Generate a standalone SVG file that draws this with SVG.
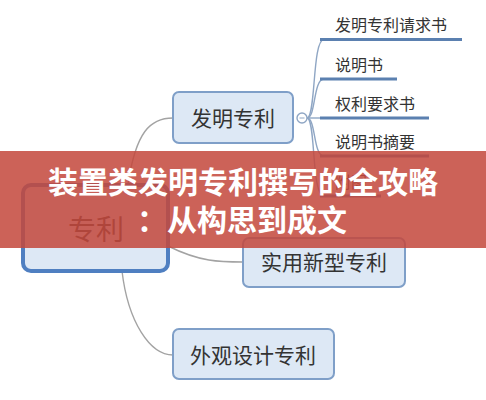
<svg xmlns="http://www.w3.org/2000/svg" width="486" height="400" viewBox="0 0 486 400">
<defs>
<style>
.cn{font-family:"Noto Sans CJK SC","Noto Sans",sans-serif;fill:#333}
.node{fill:#dde8f5;stroke:#7f9fc8;stroke-width:2}
.lbl{font-size:16px}
.ul{stroke:#5b80b0;stroke-width:3;fill:none}
.br{stroke:#8fa6c4;stroke-width:1.4;fill:none}
.lc{stroke:#a3a3a3;stroke-width:1.4;fill:none}
.title{font-family:"Noto Sans CJK SC","Noto Sans",sans-serif;font-weight:700;font-size:30px;fill:#fff}
</style>
</defs>
<rect width="486" height="400" fill="#fff"/>
<g id="connectors">
<path class="lc" d="M128,184 C136,132 150,118 173,118"/>
<path class="lc" d="M168,246 C200,262 220,262 243,262"/>
<path class="lc" d="M122,271 C128,322 150,355 173,355"/>
<path class="br" d="M307,118 L320,118"/>
<path class="br" d="M307,118 C316,118 312,39.5 324,39.5"/>
<path class="br" d="M307,118 C316,118 313,79 324,79"/>
<path class="br" d="M307,118 C316,118 313,156 324,156"/>
<path class="br" d="M307,118 C316,118 311,196 324,196"/>
</g>
<g id="n-root">
<rect x="23" y="185" width="145" height="86" rx="8" fill="#dde8f5" stroke="#4f7fc1" stroke-width="4"/>
<text class="cn" x="96" y="240" font-size="28" text-anchor="middle">专利</text>
</g>
<g id="n-faming">
<rect class="node" x="173" y="92" width="120" height="51" rx="6"/>
<text class="cn" x="233" y="126" font-size="21" text-anchor="middle">发明专利</text>
<circle cx="302" cy="118" r="5" fill="#fff" stroke="#8fa6c4" stroke-width="1.4"/>
<line x1="299.5" y1="118" x2="304.5" y2="118" stroke="#8fa6c4" stroke-width="1"/>
</g>
<g id="n-c1">
<text class="cn lbl" x="335" y="31">发明专利请求书</text>
<line class="ul" x1="320" y1="39.5" x2="462" y2="39.5"/>
</g>
<g id="n-c2">
<text class="cn lbl" x="335" y="71">说明书</text>
<line class="ul" x1="320" y1="79" x2="397" y2="79"/>
</g>
<g id="n-c3">
<text class="cn lbl" x="335" y="110">权利要求书</text>
<line class="ul" x1="320" y1="118" x2="429" y2="118"/>
</g>
<g id="n-c4">
<text class="cn lbl" x="335" y="148">说明书摘要</text>
<line class="ul" x1="320" y1="156" x2="429" y2="156"/>
</g>
<g id="n-c5">
<text class="cn lbl" x="335" y="188">附图</text>
<line class="ul" x1="320" y1="196" x2="381" y2="196"/>
</g>
<g id="n-shiyong">
<rect class="node" x="243" y="238" width="162" height="49" rx="6"/>
<text class="cn" x="324" y="270" font-size="21" text-anchor="middle">实用新型专利</text>
</g>
<g id="n-waiguan">
<rect class="node" x="173" y="329" width="161" height="50" rx="6"/>
<text class="cn" x="253" y="363" font-size="21" text-anchor="middle">外观设计专利</text>
</g>
<g id="banner">
<rect x="0" y="151" width="486" height="97" fill="#c4483c" fill-opacity="0.86"/>
<text class="title" x="243" y="193" text-anchor="middle">装置类发明专利撰写的全攻略</text>
<text class="title" x="242" y="231" text-anchor="middle">：从构思到成文</text>
</g>
</svg>
